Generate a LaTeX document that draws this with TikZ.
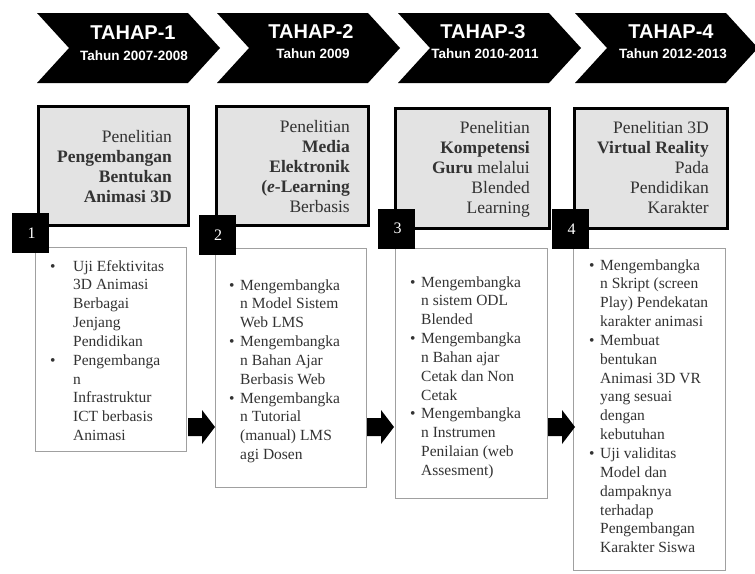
\documentclass[tikz,border=0pt]{standalone}
\usepackage{fontspec}
\setmainfont{Liberation Serif}
\newfontfamily\hdfont{Liberation Sans}
\usetikzlibrary{calc}
\definecolor{boxgray}{HTML}{E3E3E3}
\definecolor{txtdark}{HTML}{333333}
\definecolor{edgegray}{HTML}{A0A0A0}
\newcommand\bul[1]{\makebox[#1][l]{\textbullet}}
\newcommand\chevron[1]{\fill[chev] (#1,13) -- ++(151,0) -- ++(32,35) -- ++(-32,35) -- ++(-151,0) -- ++(32,-35) -- cycle;}
\newcommand\blockarrow[1]{\fill[black] (#1) ++(0,-9) -- ++(14,0) -- ++(0,-8) -- ++(13,17) -- ++(-13,17) -- ++(0,-8) -- ++(-14,0) -- cycle;}
\tikzset{
 chev/.style={fill=black},
 graybox/.style={draw=black, line width=2.6pt, fill=boxgray, inner sep=0, anchor=north west},
 whitebox/.style={draw=edgegray, line width=1.3pt, fill=white, inner sep=0, anchor=north west},
 numbox/.style={fill=black, text=white, minimum width=37pt, minimum height=40pt, inner sep=0, font=\fontsize{16}{16}\selectfont},
 ttl/.style={text=white, font=\hdfont\bfseries\fontsize{20}{20}\selectfont, inner sep=0},
 yr/.style={text=white, font=\hdfont\bfseries\fontsize{13.5}{13.5}\selectfont, inner sep=0},
 headtxt/.style={anchor=base east, inner sep=0, text=txtdark, font=\fontsize{17.5}{20}\selectfont},
 listtxt/.style={anchor=base west, inner sep=0, text=txtdark, font=\fontsize{15.5}{18.85}\selectfont},
}
\newcommand\numtxt[1]{\raisebox{-3pt}{\hspace{2pt}#1}}
\begin{document}
\begin{tikzpicture}[x=1pt,y=-1pt]
\clip (0,0) rectangle (755,573);
\fill[white] (0,0) rectangle (755,573);
% chevrons
\chevron{37}
\chevron{217}
\chevron{398}
\chevron{575}
\node[ttl] (c1) at (133,33) {TAHAP-1};
\node[yr] (y1) at (134,56) {Tahun 2007-2008};
\node[ttl] (c2) at (311,32) {TAHAP-2};
\node[yr] (y2) at (313,54) {Tahun 2009};
\node[ttl] (c3) at (483,32) {TAHAP-3};
\node[yr] (y3) at (485,54) {Tahun 2010-2011};
\node[ttl] (c4) at (671,32) {TAHAP-4};
\node[yr] (y4) at (673,54) {Tahun 2012-2013};
% gray boxes
\node[graybox, minimum width=150pt, minimum height=119pt] (g1) at (37,105) {};
\node[graybox, minimum width=152pt, minimum height=119pt] (g2) at (215,105) {};
\node[graybox, minimum width=154pt, minimum height=120pt] (g3) at (394,107) {};
\node[graybox, minimum width=153pt, minimum height=120pt] (g4) at (573,107) {};
\node[headtxt] (h1) at (172,142) {\begin{tabular}[t]{@{}r@{}}Penelitian\\\textbf{Pengembangan}\\\textbf{Bentukan}\\\textbf{Animasi 3D}\end{tabular}};
\node[headtxt] (h2) at (350,132) {\begin{tabular}[t]{@{}r@{}}Penelitian\\\textbf{Media}\\\textbf{Elektronik}\\\textbf{(\textit{e}-Learning}\\Berbasis\end{tabular}};
\node[headtxt] (h3) at (530,133) {\begin{tabular}[t]{@{}r@{}}Penelitian\\\textbf{Kompetensi}\\\textbf{Guru} melalui\\Blended\\Learning\end{tabular}};
\node[headtxt] (h4) at (709,133) {\begin{tabular}[t]{@{}r@{}}Penelitian 3D\\\textbf{Virtual Reality}\\Pada\\Pendidikan\\Karakter\end{tabular}};
% white boxes
\node[whitebox, minimum width=151pt, minimum height=204pt] (w1) at (35,247) {};
\node[whitebox, minimum width=151pt, minimum height=239pt] (w2) at (215,248) {};
\node[whitebox, minimum width=152pt, minimum height=250pt] (w3) at (395,248) {};
\node[whitebox, minimum width=152pt, minimum height=322pt] (w4) at (573,248) {};
\node[listtxt] (l1) at (50,271) {\begin{tabular}[t]{@{}l@{}l@{}}\bul{23pt}&Uji Efektivitas\\&3D Animasi\\&Berbagai\\&Jenjang\\&Pendidikan\\\bul{23pt}&Pengembanga\\&n\\&Infrastruktur\\&ICT berbasis\\&Animasi\end{tabular}};
\node[listtxt] (l2) at (229,290) {\begin{tabular}[t]{@{}l@{}l@{}}\bul{11pt}&Mengembangka\\&n Model Sistem\\&Web LMS\\\bul{11pt}&Mengembangka\\&n Bahan Ajar\\&Berbasis Web\\\bul{11pt}&Mengembangka\\&n Tutorial\\&(manual) LMS\\&agi Dosen\end{tabular}};
\node[listtxt] (l3) at (410,287) {\begin{tabular}[t]{@{}l@{}l@{}}\bul{11pt}&Mengembangka\\&n sistem ODL\\&Blended\\\bul{11pt}&Mengembangka\\&n Bahan ajar\\&Cetak dan Non\\&Cetak\\\bul{11pt}&Mengembangka\\&n Instrumen\\&Penilaian (web\\&Assesment)\end{tabular}};
\node[listtxt] (l4) at (589,270) {\begin{tabular}[t]{@{}l@{}l@{}}\bul{11pt}&Mengembangka\\&n Skript (screen\\&Play) Pendekatan\\&karakter animasi\\\bul{11pt}&Membuat\\&bentukan\\&Animasi 3D VR\\&yang sesuai\\&dengan\\&kebutuhan\\\bul{11pt}&Uji validitas\\&Model dan\\&dampaknya\\&terhadap\\&Pengembangan\\&Karakter Siswa\end{tabular}};
% number squares
\node[numbox] (n1) at (30.5,233) {\numtxt{1}};
\node[numbox] (n2) at (217,235) {\numtxt{2}};
\node[numbox] (n3) at (396.5,228.5) {\numtxt{3}};
\node[numbox] (n4) at (570.5,229) {\numtxt{4}};
% block arrows
\coordinate (a1) at (188,427);
\coordinate (a2) at (367,427);
\coordinate (a3) at (548,427);
\blockarrow{a1}
\blockarrow{a2}
\blockarrow{a3}
\end{tikzpicture}
\end{document}
